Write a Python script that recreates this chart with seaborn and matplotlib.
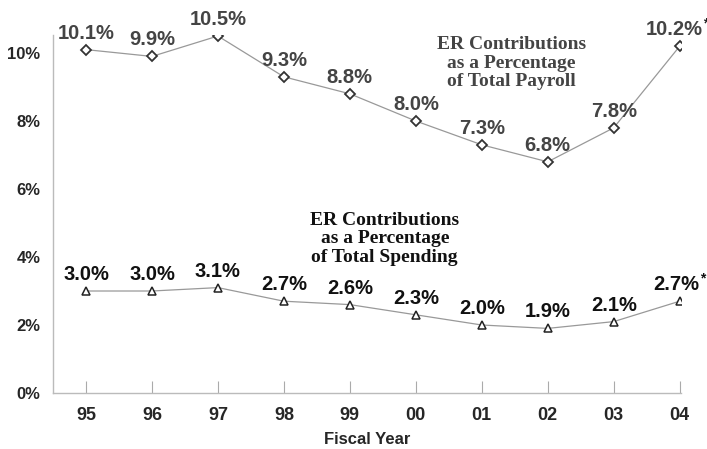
import matplotlib
matplotlib.use("Agg")
import matplotlib.pyplot as plt
import seaborn as sns
import pandas as pd

years = ["95", "96", "97", "98", "99", "00", "01", "02", "03", "04"]
payroll = [10.1, 9.9, 10.5, 9.3, 8.8, 8.0, 7.3, 6.8, 7.8, 10.2]
spending = [3.0, 3.0, 3.1, 2.7, 2.6, 2.3, 2.0, 1.9, 2.1, 2.7]
yticks = [0, 2, 4, 6, 8, 10]
payroll_note = "ER Contributions\nas a Percentage\nof Total Payroll"
spending_note = "ER Contributions\nas a Percentage\nof Total Spending"

sns.set_theme(style="white")
plt.rcParams['font.family'] = ['Liberation Sans', 'DejaVu Sans']

df = pd.DataFrame({"year": years, "x": range(len(years)),
                   "payroll": payroll, "spending": spending})

fig = plt.figure(figsize=(7.07, 4.49), dpi=100)
ax = fig.add_axes([53/707, 56/449, (681-53)/707, (393-35)/449])

sns.lineplot(data=df, x="x", y="payroll", ax=ax, color="#999999", lw=0.9,
             marker="D", markersize=5, markerfacecolor="white",
             markeredgecolor="#333333", markeredgewidth=1.3)
sns.lineplot(data=df, x="x", y="spending", ax=ax, color="#999999", lw=0.9,
             marker="^", markersize=5.5, markerfacecolor="white",
             markeredgecolor="#222222", markeredgewidth=1.1)

last = len(years) - 1
for i, v in enumerate(payroll):
    dx = -5 if i == last else 0
    ax.annotate(f"{v:.1f}%", (i, v), xytext=(dx, 7), textcoords="offset pixels",
                ha="center", va="bottom", fontsize=14.5, fontweight="bold",
                color="#444444")
for i, v in enumerate(spending):
    dx = -3 if i == last else 0
    ax.annotate(f"{v:.1f}%", (i, v), xytext=(dx, 7), textcoords="offset pixels",
                ha="center", va="bottom", fontsize=14.5, fontweight="bold",
                color="#111111")

# asterisks on the last values (footnote marks)
ax.annotate("*", (last, payroll[-1]), xytext=(23, 30), textcoords="offset pixels",
            ha="left", va="top", fontsize=10, fontweight="bold", color="#222222")
ax.annotate("*", (last, spending[-1]), xytext=(20, 30), textcoords="offset pixels",
            ha="left", va="top", fontsize=10, fontweight="bold", color="#111111")

ax.text(6.45, 9.7, payroll_note, ha="center", va="center", fontsize=14,
        fontweight="bold", color="#444444", family=["Liberation Serif"],
        linespacing=1.12)
ax.text(4.53, 4.53, spending_note, ha="center", va="center", fontsize=14,
        fontweight="bold", color="#111111", family=["Liberation Serif"],
        linespacing=1.15)

ax.set_xlim(-0.5, 9.02)
ax.set_ylim(0, 10.53)
ax.set_xticks(range(len(years)))
ax.set_xticklabels(years, fontsize=13, fontweight="bold")
ax.set_yticks(yticks)
ax.set_yticklabels([f"{t}%" for t in yticks], fontsize=12, fontweight="bold")
ax.tick_params(axis="x", direction="in", length=9, width=0.8, color="#aaaaaa",
               pad=10, bottom=True)
ax.tick_params(axis="y", length=0, pad=9)
ax.set_xlabel("Fiscal Year", fontsize=12, fontweight="bold", labelpad=6)
ax.set_ylabel("")

for s in ["top", "right"]:
    ax.spines[s].set_visible(False)
for s in ["left", "bottom"]:
    ax.spines[s].set_color("#bbbbbb")
    ax.spines[s].set_linewidth(1.0)

fig.savefig("out.png", dpi=100)
